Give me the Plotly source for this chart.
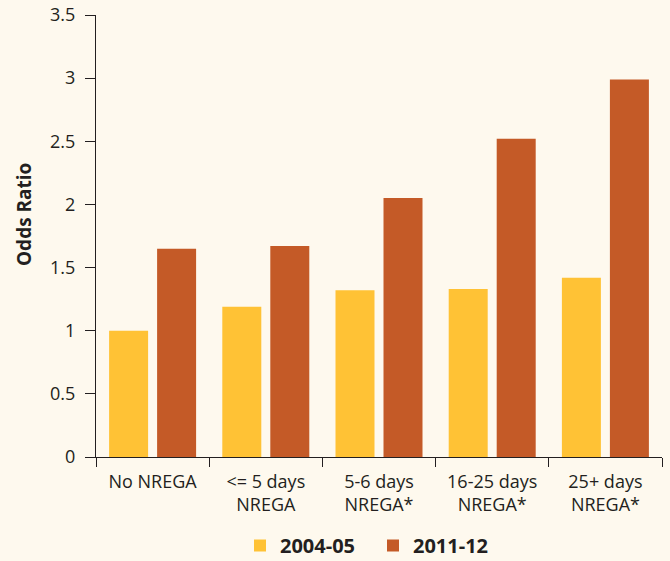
import plotly.graph_objects as go

categories = ["No NREGA", "<= 5 days<br>NREGA", "5-6 days<br>NREGA*", "16-25 days<br>NREGA*", "25+ days<br>NREGA*"]
series_2004 = [1.0, 1.19, 1.32, 1.33, 1.42]
series_2011 = [1.65, 1.67, 2.05, 2.52, 2.99]
y_ticks = [0, 0.5, 1, 1.5, 2, 2.5, 3, 3.5]
y_tick_labels = ["0", "0.5", "1", "1.5", "2", "2.5", "3", "3.5"]

YELLOW = "#FFC235"
ORANGE = "#C45A27"
BG = "#FEF9EE"
INK = "#231F20"
FONT = "Open Sans"

fig = go.Figure()
fig.add_trace(go.Bar(x=categories, y=series_2004, name="2004-05", marker=dict(color=YELLOW, line=dict(width=0))))
fig.add_trace(go.Bar(x=categories, y=series_2011, name="2011-12", marker=dict(color=ORANGE, line=dict(width=0))))

L, R, T, B = 96, 8, 15, 104
W, H = 670, 561
pw = W - L - R
ph = H - T - B

fig.update_layout(
    width=W, height=H,
    paper_bgcolor=BG, plot_bgcolor=BG,
    margin=dict(l=L, r=R, t=T, b=B, autoexpand=False),
    barmode="group", bargap=0.152, bargroupgap=0.1875,
    font=dict(family=FONT, color=INK, size=18),
    showlegend=True,
    legend=dict(orientation="h", x=(373 - L) / pw, xanchor="center", y=-(B + 4) / ph, yanchor="bottom",
                font=dict(family=FONT, size=20, color=INK, weight="bold"),
                itemwidth=30, entrywidth=88, bgcolor="rgba(0,0,0,0)", traceorder="normal"),
    xaxis=dict(showline=True, linecolor=INK, linewidth=1.3, ticks="outside", tickson="boundaries",
               ticklen=9, tickcolor=INK, tickwidth=1.3, showgrid=False, zeroline=False,
               tickfont=dict(family=FONT, size=18, color=INK), range=[-0.5, 4.5], ticklabelstandoff=8),
    yaxis=dict(range=[0, 3.5], tickvals=y_ticks, ticktext=y_tick_labels, showline=True, linecolor=INK,
               linewidth=1.3, ticks="outside", ticklen=10, tickcolor=INK, tickwidth=1.3, showgrid=False,
               zeroline=False, tickfont=dict(family=FONT, size=18, color=INK), ticklabelstandoff=6),
    annotations=[dict(text="<b>Odds Ratio</b>", x=(24 - L) / pw, y=(H - B - 215) / ph,
                      xref="paper", yref="paper", showarrow=False, xanchor="center", yanchor="middle",
                      textangle=-90, font=dict(family=FONT, size=19, color=INK))],
)

fig.write_html("out.html", config={"displayModeBar": False},
               post_script="document.body.style.margin='0';document.body.style.overflow='hidden';"
                           "document.body.style.background='%s';" % BG)
